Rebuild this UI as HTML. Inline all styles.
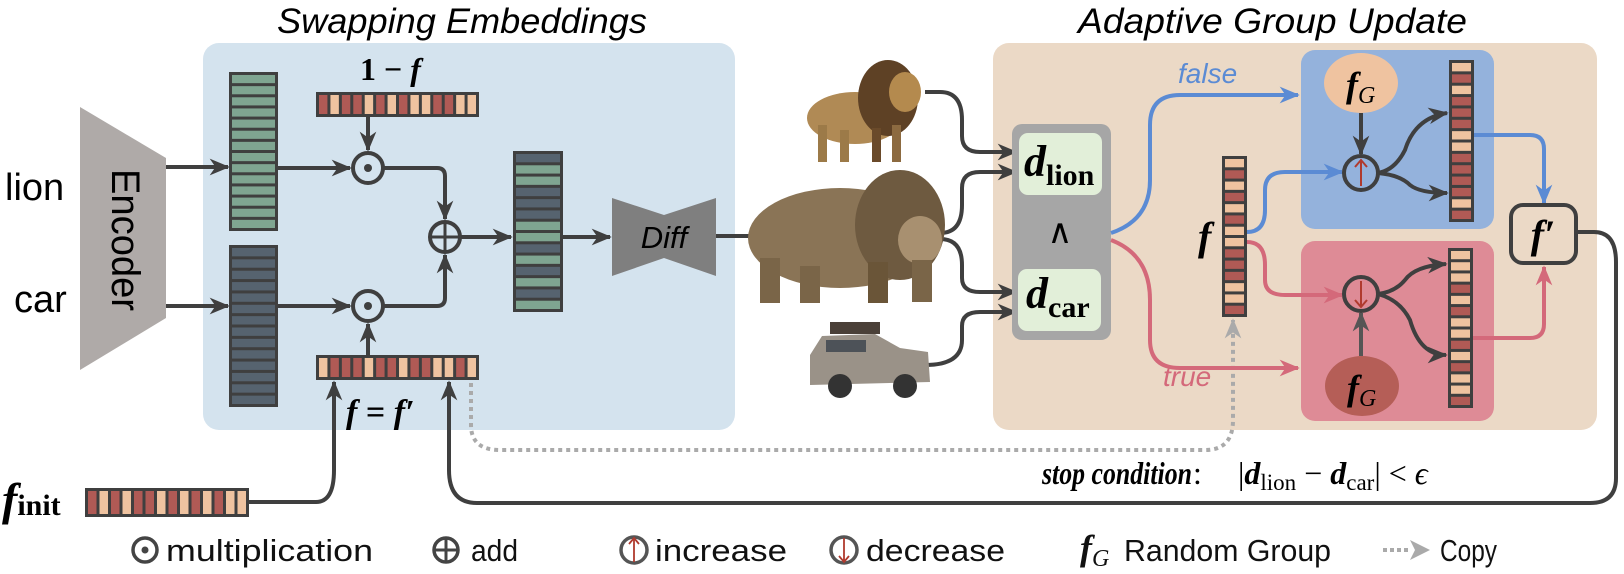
<!DOCTYPE html>
<html><head><meta charset="utf-8"><style>
html,body{margin:0;padding:0;background:#fff}
svg{display:block}
.s{font-family:"Liberation Sans",sans-serif}
.r{font-family:"Liberation Serif",serif}
</style></head><body>
<svg id="sv" width="1624" height="574" viewBox="0 0 1624 574" xmlns="http://www.w3.org/2000/svg">
<defs>
<marker id="ad" viewBox="0 0 12 10" markerWidth="20" markerHeight="17" refX="11" refY="5" orient="auto" markerUnits="userSpaceOnUse"><path d="M0,0 L12,5 L0,10 L3.5,5 z" fill="#3f3f3f"/></marker>
<marker id="ab" viewBox="0 0 12 10" markerWidth="20" markerHeight="17" refX="11" refY="5" orient="auto" markerUnits="userSpaceOnUse"><path d="M0,0 L12,5 L0,10 L3.5,5 z" fill="#5b8bd4"/></marker>
<marker id="ap" viewBox="0 0 12 10" markerWidth="20" markerHeight="17" refX="11" refY="5" orient="auto" markerUnits="userSpaceOnUse"><path d="M0,0 L12,5 L0,10 L3.5,5 z" fill="#d4697a"/></marker>
<marker id="ag" viewBox="0 0 12 10" markerWidth="20" markerHeight="17" refX="11" refY="5" orient="auto" markerUnits="userSpaceOnUse"><path d="M0,0 L12,5 L0,10 L3.5,5 z" fill="#aaaaaa"/></marker>
<marker id="am" viewBox="0 0 12 10" markerWidth="20" markerHeight="17" refX="11" refY="5" orient="auto" markerUnits="userSpaceOnUse"><path d="M0,0 L12,5 L0,10 L3.5,5 z" fill="#555"/></marker>
</defs>

<text x="277" y="33" class="s" font-style="italic" font-size="35" textLength="370" lengthAdjust="spacingAndGlyphs">Swapping Embeddings</text>
<text x="1078" y="33" class="s" font-style="italic" font-size="35" textLength="389" lengthAdjust="spacingAndGlyphs">Adaptive Group Update</text>

<rect x="203" y="43" width="532" height="387" rx="16" fill="#d4e3ee"/>
<rect x="993" y="43" width="604" height="387" rx="16" fill="#ebd9c6"/>
<rect x="1301" y="50" width="193" height="179" rx="14" fill="#94b2dc"/>
<rect x="1301" y="241" width="193" height="180" rx="14" fill="#de8b96"/>

<polygon points="80,107 166,158 166,318 80,370" fill="#afaaa8"/>
<text transform="translate(112,240) rotate(90)" class="s" font-size="40" text-anchor="middle" textLength="142" lengthAdjust="spacingAndGlyphs">Encoder</text>
<text x="5" y="200" class="s" font-size="38">lion</text>
<text x="14" y="312" class="s" font-size="38">car</text>

<text x="360" y="80" class="r" font-size="32" font-weight="bold">1 − <tspan font-style="italic">f</tspan></text>
<text x="346" y="423" class="r" font-size="34" font-weight="bold" font-style="italic">f<tspan font-style="normal"> = </tspan>f′</text>

<polygon points="612,198 664,215 716,198 716,276 664,258 612,276" fill="#7f7f7f"/>
<text x="664" y="248" class="s" font-size="31" font-style="italic" text-anchor="middle">Diff</text>

<g id="cells"></g>

<g fill="none" stroke="#3f3f3f" stroke-width="4" marker-end="url(#ad)">
<path d="M166,167 H228"/>
<path d="M166,306 H228"/>
<path d="M278,168 H350"/>
<path d="M278,306 H350"/>
<path d="M368,117 V150"/>
<path d="M368,355 V324"/>
<path d="M384,168 H437 Q445,168 445,176 V219"/>
<path d="M384,306 H437 Q445,306 445,298 V255"/>
<path d="M461,237 H511"/>
<path d="M563,237 H610"/>
<path d="M716,236 H785"/>
<path d="M249,502 H316 Q334,502 334,470 V382"/>
<path d="M1576,232 H1594 Q1616,232 1616,262 V478 Q1616,503 1590,503 H477 Q449,503 449,470 V382"/>
<path d="M925,92 H940 Q962,92 962,120 V136 Q962,152 980,152 H1016"/>
<path d="M940,233 Q962,233 962,205 V188 Q962,172 980,172 H1016"/>
<path d="M940,239 Q962,239 962,265 V278 Q962,292 980,292 H1016"/>
<path d="M925,365 Q962,365 962,340 V326 Q962,312 980,312 H1016"/>
<path d="M1361,113 V154"/>
<path d="M1378,173 Q1395,170 1405,150 Q1415,118 1447,113"/>
<path d="M1378,173 Q1400,175 1410,185 Q1420,193 1447,193"/>
<path d="M1378,294 Q1395,292 1405,280 Q1415,266 1446,264"/>
<path d="M1378,294 Q1400,300 1410,320 Q1420,355 1446,355"/>
</g>
<path d="M1361,356 V313" stroke="#555" stroke-width="4" fill="none" marker-end="url(#am)"/>
<path d="M471,383 V425 Q471,450 500,450 H1205 Q1233,450 1233,420 V320" stroke="#aaa" stroke-width="4" stroke-dasharray="4 4" fill="none" marker-end="url(#ag)"/>

<g fill="#d4e3ee" stroke="#3f3f3f" stroke-width="4">
<circle cx="368" cy="168" r="15"/><circle cx="368" cy="306" r="15"/><circle cx="445" cy="237" r="15"/>
</g>
<circle cx="368" cy="168" r="4" fill="#3f3f3f"/><circle cx="368" cy="306" r="4" fill="#3f3f3f"/>
<path d="M430,237 H460 M445,222 V252" stroke="#3f3f3f" stroke-width="3"/>

<g>
<ellipse cx="855" cy="118" rx="48" ry="26" fill="#b08a55"/>
<ellipse cx="888" cy="98" rx="30" ry="38" fill="#5e4125"/>
<ellipse cx="905" cy="92" rx="16" ry="20" fill="#b48a4e"/>
<rect x="818" y="125" width="9" height="37" fill="#9c7a48"/><rect x="840" y="130" width="9" height="32" fill="#9c7a48"/>
<rect x="872" y="128" width="9" height="34" fill="#6a4a2a"/><rect x="892" y="125" width="9" height="37" fill="#8c6a40"/>
<ellipse cx="840" cy="238" rx="92" ry="50" fill="#8a7456"/>
<ellipse cx="900" cy="225" rx="45" ry="55" fill="#6e5a40"/>
<ellipse cx="920" cy="240" rx="22" ry="24" fill="#a89070"/>
<rect x="760" y="258" width="20" height="45" fill="#7a6548"/><rect x="800" y="266" width="20" height="37" fill="#7a6548"/>
<rect x="868" y="262" width="20" height="41" fill="#6a5538"/><rect x="912" y="260" width="20" height="42" fill="#7a6548"/>
<rect x="830" y="322" width="50" height="12" fill="#4a4038"/>
<path d="M810,355 L822,336 L875,334 L900,348 L928,352 L930,382 L810,385 z" fill="#9a9288"/>
<rect x="826" y="340" width="40" height="12" fill="#4d5258"/>
<circle cx="840" cy="386" r="12" fill="#333"/><circle cx="905" cy="386" r="12" fill="#333"/>
</g>

<rect x="1012" y="124" width="99" height="216" rx="10" fill="#a6a6a6"/>
<rect x="1019" y="133" width="83" height="62" rx="9" fill="#e2efd9"/>
<rect x="1018" y="269" width="83" height="62" rx="9" fill="#e2efd9"/>
<text x="1024" y="176" class="r" font-size="44" font-weight="bold" font-style="italic">d<tspan font-style="normal" font-size="30" dy="9">lion</tspan></text>
<text x="1026" y="308" class="r" font-size="44" font-weight="bold" font-style="italic">d<tspan font-style="normal" font-size="30" dy="9">car</tspan></text>
<text x="1060" y="243" class="r" font-size="34" text-anchor="middle">∧</text>

<g fill="none" stroke-width="4">
<path d="M1111,233 Q1150,220 1150,180 V125 Q1150,95 1180,95 H1298" stroke="#5b8bd4" marker-end="url(#ab)"/>
<path d="M1111,240 Q1150,255 1150,300 V340 Q1150,368 1180,368 H1298" stroke="#d4697a" marker-end="url(#ap)"/>
<path d="M1247,232 Q1265,232 1265,210 V190 Q1265,172 1285,172 H1342" stroke="#5b8bd4" marker-end="url(#ab)"/>
<path d="M1247,242 Q1265,242 1265,265 V280 Q1265,295 1285,295 H1342" stroke="#d4697a" marker-end="url(#ap)"/>
<path d="M1474,135 H1530 Q1544,135 1544,149 V203" stroke="#5b8bd4" marker-end="url(#ab)"/>
<path d="M1473,338 H1530 Q1544,338 1544,324 V267" stroke="#d4697a" marker-end="url(#ap)"/>
</g>
<text x="1178" y="83" class="s" font-size="28" font-style="italic" fill="#5b8bd4">false</text>
<text x="1163" y="386" class="s" font-size="28" font-style="italic" fill="#d4697a">true</text>
<text x="1198" y="250" class="r" font-size="40" font-weight="bold" font-style="italic">f</text>

<ellipse cx="1361" cy="83" rx="37" ry="30" fill="#efc3a0"/>
<text x="1346" y="97" class="r" font-size="36" font-weight="bold" font-style="italic">f<tspan font-size="24" font-weight="normal" dy="6">G</tspan></text>
<ellipse cx="1362" cy="386" rx="37" ry="30" fill="#b55e57"/>
<text x="1347" y="400" class="r" font-size="36" font-weight="bold" font-style="italic">f<tspan font-size="24" font-weight="normal" dy="6">G</tspan></text>
<circle cx="1361" cy="173" r="17" fill="#94b2dc" stroke="#3f3f3f" stroke-width="4"/>
<path d="M1361,186 V160 M1355,167 L1361,160 L1367,167" stroke="#b03a2e" stroke-width="2" fill="none"/>
<circle cx="1361" cy="294" r="17" fill="#de8b96" stroke="#3f3f3f" stroke-width="4"/>
<path d="M1361,281 V307 M1355,300 L1361,307 L1367,300" stroke="#b03a2e" stroke-width="2" fill="none"/>

<rect x="1511" y="205" width="65" height="58" rx="12" fill="#ebd9c6" stroke="#3f3f3f" stroke-width="4"/>
<text x="1543" y="248" class="r" font-size="40" font-weight="bold" font-style="italic" text-anchor="middle">f′</text>

<text x="2" y="515" class="r" font-size="46" font-weight="bold" font-style="italic">f<tspan font-style="normal" font-size="30" dy="0">init</tspan></text>

<text x="1042" y="484" class="r" font-size="32" font-weight="bold" font-style="italic" textLength="150" lengthAdjust="spacingAndGlyphs">stop condition</text>
<text x="1193" y="484" class="r" font-size="32">:</text>
<text x="1238" y="484" class="r" font-size="32">|<tspan font-style="italic" font-weight="bold">d</tspan><tspan font-size="23" dy="6">lion</tspan><tspan dy="-6"> − </tspan><tspan font-style="italic" font-weight="bold">d</tspan><tspan font-size="23" dy="6">car</tspan><tspan dy="-6">| &lt; </tspan><tspan font-style="italic">ϵ</tspan></text>

<g font-size="31" class="s" fill="#111">
<circle cx="145" cy="550" r="12" fill="none" stroke="#444" stroke-width="3.5"/><circle cx="145" cy="550" r="3.5" fill="#444"/>
<text x="166" y="561" textLength="207" lengthAdjust="spacingAndGlyphs">multiplication</text>
<circle cx="446" cy="550" r="12" fill="none" stroke="#444" stroke-width="3.5"/><path d="M434,550 H458 M446,538 V562" stroke="#444" stroke-width="3"/>
<text x="471" y="561" textLength="47" lengthAdjust="spacingAndGlyphs">add</text>
<circle cx="634" cy="550" r="13" fill="none" stroke="#555" stroke-width="3.5"/><path d="M634,562 V538 M629,544 L634,538 L639,544" stroke="#b03a2e" stroke-width="1.8" fill="none"/>
<text x="655" y="561" textLength="132" lengthAdjust="spacingAndGlyphs">increase</text>
<circle cx="844" cy="550" r="13" fill="none" stroke="#555" stroke-width="3.5"/><path d="M844,538 V562 M839,556 L844,562 L849,556" stroke="#b03a2e" stroke-width="1.8" fill="none"/>
<text x="866" y="561" textLength="139" lengthAdjust="spacingAndGlyphs">decrease</text>
<text x="1080" y="560" class="r" font-size="36" font-weight="bold" font-style="italic">f<tspan font-size="24" font-weight="normal" dy="6">G</tspan></text>
<text x="1124" y="561" textLength="207" lengthAdjust="spacingAndGlyphs">Random Group</text>
<path d="M1383,550 H1410" stroke="#aaa" stroke-width="4" stroke-dasharray="4 3"/>
<path d="M1410,540 L1430,550 L1410,560 L1415,550 z" fill="#aaa"/>
<text x="1440" y="561" textLength="57" lengthAdjust="spacingAndGlyphs">Copy</text>
</g>
</svg>
<script>
(function(){
var C={g:'#7fa591',d:'#56636f',t:'#efc3a0',r:'#b05a55'};
var g=document.getElementById('cells');var ns='http://www.w3.org/2000/svg';
function R(x,y,w,h,f){var e=document.createElementNS(ns,'rect');e.setAttribute('x',x);e.setAttribute('y',y);e.setAttribute('width',w);e.setAttribute('height',h);e.setAttribute('fill',f);g.appendChild(e);}
function V(x,y,w,h,s,hor){R(x,y,w,h,'#3f3f3f');var n=s.length,b=3;
 if(!hor){var p=(h-b)/n;for(var i=0;i<n;i++)R(x+b,y+b+i*p,w-2*b,p-b,C[s[i]]);}
 else{var p=(w-b)/n;for(var i=0;i<n;i++)R(x+b+i*p,y+b,p-b,h-2*b,C[s[i]]);}}
V(229,72,49,159,'gggggggggggggg');
V(229,245,49,162,'dddddddddddddd');
V(316,92,163,25,'rtrrtrtrttrrtt',1);
V(316,355,163,25,'trrrtrrtrrttrt',1);
V(513,151,50,161,'dggdddggdgdgdg');
V(85,488,164,29,'rtrtrrtrtrtrtt',1);
V(1222,156,25,161,'trtrtrttrrrttr');
V(1449,60,25,162,'trtrrrttrrrrtr');
V(1448,248,25,160,'tttrtrttrtrttr');
})();
</script>
</body></html>
